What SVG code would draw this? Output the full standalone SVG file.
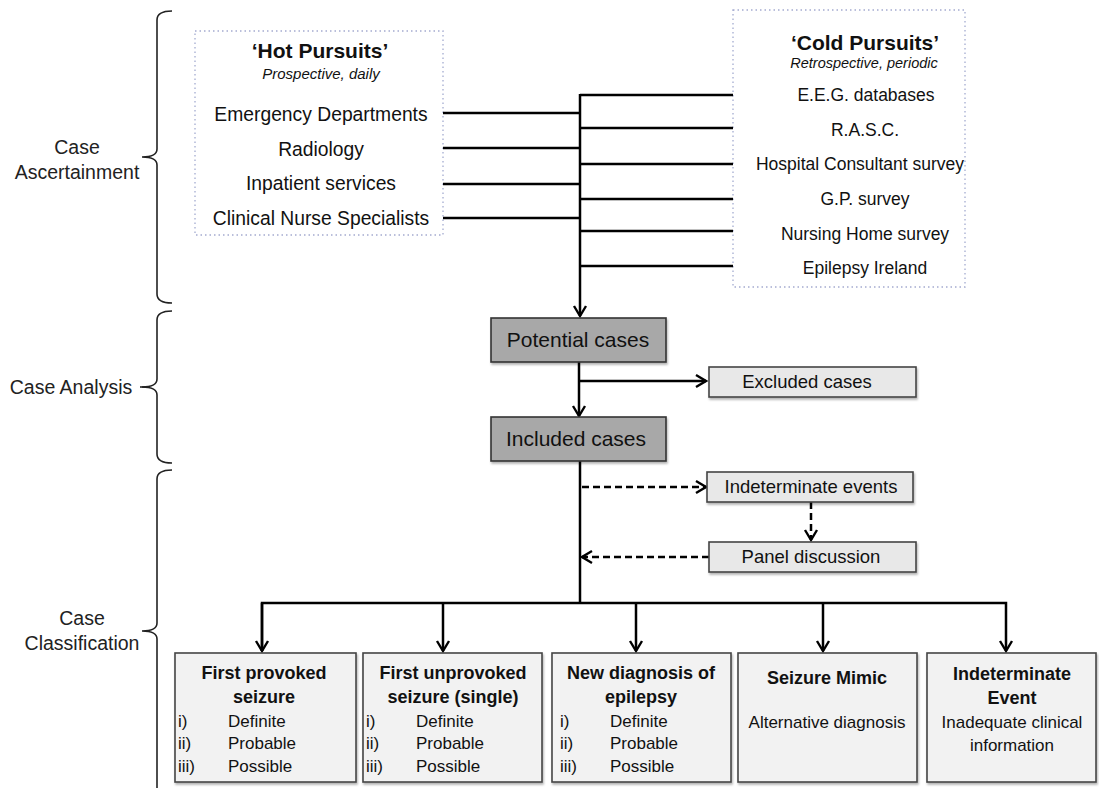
<svg xmlns="http://www.w3.org/2000/svg" width="1099" height="788" viewBox="0 0 1099 788">
<defs>
<marker id="arr" viewBox="-12 -8 14 16" refX="0" refY="0" markerWidth="14" markerHeight="16" markerUnits="userSpaceOnUse" orient="auto">
<path d="M-10,-6 L0,0 L-10,6" fill="none" stroke="#000" stroke-width="2.4" stroke-linejoin="miter"/>
</marker>
<filter id="sh" x="-10%" y="-10%" width="130%" height="140%">
<feDropShadow dx="1" dy="2" stdDeviation="1.2" flood-color="#000" flood-opacity="0.3"/>
</filter>
</defs>
<style>
text{font-family:"Liberation Sans",Arial,sans-serif;fill:#111;}
.c{text-anchor:middle;}
.b{font-weight:bold;}
.it{font-style:italic;}
.src{font-size:19.3px;}
.csrc{font-size:17.5px;}
.lbl{font-size:19.5px;fill:#222;}
.dot{fill:#fff;stroke:#a4abd0;stroke-width:1.3;stroke-dasharray:1.5 3;}
.dark{fill:#a8a8a8;stroke:#333;stroke-width:1.6;filter:url(#sh);}
.light{fill:#e8e8e8;stroke:#444;stroke-width:1.6;filter:url(#sh);}
.cls{fill:#f2f2f2;stroke:#444;stroke-width:1.6;filter:url(#sh);}
.ln{fill:none;stroke:#000;stroke-width:2.5;}
.dash{fill:none;stroke:#000;stroke-width:2.5;stroke-dasharray:7 4;}
.brace{fill:none;stroke:#222;stroke-width:1.6;}
.sm{font-size:17px;}
.tt{font-size:18px;font-weight:bold;}
</style>

<g id="stage-labels">
<path class="brace" d="M172,11 Q157,11 157,20 L157,149 Q157,157 142,157 Q157,157 157,165 L157,294 Q157,303 172,303"/>
<text class="lbl c" x="77" y="154">Case</text>
<text class="lbl c" x="77" y="179">Ascertainment</text>
<path class="brace" d="M172,311 Q157,311 157,320 L157,379 Q157,387 142,387 Q157,387 157,395 L157,454 Q157,463 172,463"/>
<line x1="140" y1="387" x2="150" y2="387" stroke="#222" stroke-width="1.6"/>
<text class="lbl c" x="71" y="394">Case Analysis</text>
<path class="brace" d="M172,470 Q157,470 157,479 L157,623 Q157,631 142,631 Q157,631 157,639 L157,800"/>
<text class="lbl c" x="82" y="625">Case</text>
<text class="lbl c" x="82" y="650">Classification</text>
</g>

<g id="hot-pursuits">
<rect class="dot" x="195" y="31" width="248" height="204"/>
<text class="c b" x="320" y="58" font-size="21">‘Hot Pursuits’</text>
<text class="c it" x="321" y="79" font-size="15">Prospective, daily</text>
<text class="c src" x="321" y="121">Emergency Departments</text>
<text class="c src" x="321" y="156">Radiology</text>
<text class="c src" x="321" y="190">Inpatient services</text>
<text class="c src" x="321" y="225">Clinical Nurse Specialists</text>
</g>

<g id="cold-pursuits">
<rect class="dot" x="733" y="10" width="232" height="277"/>
<text class="c b" x="865" y="50" font-size="21">‘Cold Pursuits’</text>
<text class="c it" x="864" y="68" font-size="14.5">Retrospective, periodic</text>
<text class="c csrc" x="866" y="101">E.E.G. databases</text>
<text class="c csrc" x="865" y="136">R.A.S.C.</text>
<text class="c csrc" x="860" y="170">Hospital Consultant survey</text>
<text class="c csrc" x="865" y="205">G.P. survey</text>
<text class="c csrc" x="865" y="240">Nursing Home survey</text>
<text class="c csrc" x="865" y="274">Epilepsy Ireland</text>
</g>

<g id="connectors">
<line class="ln" x1="443" y1="113" x2="580" y2="113"/>
<line class="ln" x1="443" y1="148" x2="580" y2="148"/>
<line class="ln" x1="443" y1="184" x2="580" y2="184"/>
<line class="ln" x1="443" y1="218" x2="580" y2="218"/>
<line class="ln" x1="580" y1="95" x2="733" y2="95"/>
<line class="ln" x1="580" y1="128" x2="733" y2="128"/>
<line class="ln" x1="580" y1="164" x2="733" y2="164"/>
<line class="ln" x1="580" y1="199" x2="733" y2="199"/>
<line class="ln" x1="580" y1="231" x2="733" y2="231"/>
<line class="ln" x1="580" y1="266" x2="733" y2="266"/>
<line class="ln" x1="580" y1="94" x2="580" y2="316" marker-end="url(#arr)"/>
<line class="ln" x1="579" y1="362" x2="579" y2="416" marker-end="url(#arr)"/>
<line class="ln" x1="579" y1="381" x2="706" y2="381" marker-end="url(#arr)"/>
<line class="ln" x1="580" y1="461" x2="580" y2="603"/>
<line class="dash" x1="582" y1="487" x2="706" y2="487" marker-end="url(#arr)"/>
<line class="dash" x1="811" y1="502" x2="811" y2="540" marker-end="url(#arr)"/>
<line class="dash" x1="709" y1="557" x2="582" y2="557" marker-end="url(#arr)"/>
<polyline class="ln" points="262,651 262,603 1006,603 1006,651" marker-end="url(#arr)"/>
<line class="ln" x1="262" y1="603" x2="262" y2="651" marker-end="url(#arr)"/>
<line class="ln" x1="443" y1="603" x2="443" y2="651" marker-end="url(#arr)"/>
<line class="ln" x1="636" y1="603" x2="636" y2="651" marker-end="url(#arr)"/>
<line class="ln" x1="823" y1="603" x2="823" y2="651" marker-end="url(#arr)"/>
</g>

<g id="potential-cases">
<rect class="dark" x="491" y="318" width="175" height="44"/>
<text class="c" x="578" y="347" font-size="21">Potential cases</text>
</g>
<g id="included-cases">
<rect class="dark" x="491" y="417" width="175" height="44"/>
<text class="c" x="576" y="446" font-size="21">Included cases</text>
</g>
<g id="excluded-cases">
<rect class="light" x="709" y="367" width="207" height="30"/>
<text class="c" x="807" y="388" font-size="18.5">Excluded cases</text>
</g>
<g id="indeterminate-events">
<rect class="light" x="707" y="472" width="206" height="30"/>
<text class="c" x="811" y="493" font-size="18.5">Indeterminate events</text>
</g>
<g id="panel-discussion">
<rect class="light" x="709" y="542" width="207" height="30"/>
<text class="c" x="811" y="563" font-size="18.5">Panel discussion</text>
</g>

<g id="first-provoked">
<rect class="cls" x="175" y="653" width="181" height="129"/>
<text class="c tt" x="264" y="679">First provoked</text>
<text class="c tt" x="264" y="703">seizure</text>
<text class="sm" x="178" y="727">i)</text><text class="sm" x="228" y="727">Definite</text>
<text class="sm" x="178" y="749">ii)</text><text class="sm" x="228" y="749">Probable</text>
<text class="sm" x="178" y="772">iii)</text><text class="sm" x="228" y="772">Possible</text>
</g>
<g id="first-unprovoked">
<rect class="cls" x="363" y="653" width="179" height="129"/>
<text class="c tt" x="453" y="679">First unprovoked</text>
<text class="c tt" x="453" y="703">seizure (single)</text>
<text class="sm" x="366" y="727">i)</text><text class="sm" x="416" y="727">Definite</text>
<text class="sm" x="366" y="749">ii)</text><text class="sm" x="416" y="749">Probable</text>
<text class="sm" x="366" y="772">iii)</text><text class="sm" x="416" y="772">Possible</text>
</g>
<g id="new-diagnosis">
<rect class="cls" x="552" y="653" width="179" height="129"/>
<text class="c tt" x="641" y="679">New diagnosis of</text>
<text class="c tt" x="641" y="703">epilepsy</text>
<text class="sm" x="560" y="727">i)</text><text class="sm" x="610" y="727">Definite</text>
<text class="sm" x="560" y="749">ii)</text><text class="sm" x="610" y="749">Probable</text>
<text class="sm" x="560" y="772">iii)</text><text class="sm" x="610" y="772">Possible</text>
</g>
<g id="seizure-mimic">
<rect class="cls" x="738" y="653" width="179" height="129"/>
<text class="c tt" x="827" y="684">Seizure Mimic</text>
<text class="c sm" x="827" y="728">Alternative diagnosis</text>
</g>
<g id="indeterminate-event">
<rect class="cls" x="927" y="653" width="169" height="129"/>
<text class="c tt" x="1012" y="680">Indeterminate</text>
<text class="c tt" x="1012" y="704">Event</text>
<text class="c sm" x="1012" y="728">Inadequate clinical</text>
<text class="c sm" x="1012" y="751">information</text>
</g>
</svg>
